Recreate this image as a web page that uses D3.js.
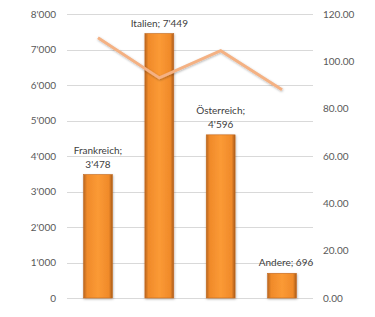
<!DOCTYPE html>
<html>
<head>
<meta charset="utf-8">
<script src="https://cdn.jsdelivr.net/npm/d3@7"></script>
<style>
  body { margin: 0; background: #fff; }
  svg { display: block; font-family: Lato, "Open Sans", sans-serif; }
</style>
</head>
<body>
<div id="chart"></div>
<script>
var width = 375
var height = 317

// data
var categories = ['Frankreich', 'Italien', 'Österreich', 'Andere']
var barValues = [3478, 7449, 4596, 696]
var lineValues = [110, 93, 104.5, 88]
var leftTicks = [0, 1000, 2000, 3000, 4000, 5000, 6000, 7000, 8000]
var rightTicks = [0, 20, 40, 60, 80, 100, 120]

var margin = { top: 14, right: 62, bottom: 19, left: 67 }

var locale = d3.formatLocale({ decimal: '.', thousands: "'", grouping: [3], currency: ['', ''] })
var fmtInt = locale.format(',d')
var fmtRight = d3.format('.2f')

var xScale = d3.scaleBand()
    .domain(categories)
    .range([margin.left, width - margin.right])
    .paddingInner(0.53)
    .paddingOuter(0.27)

var yLeft = d3.scaleLinear()
    .domain([0, 8000])
    .range([height - margin.bottom, margin.top])

var yRight = d3.scaleLinear()
    .domain([0, 120])
    .range([height - margin.bottom, margin.top])

var svg = d3.select('#chart').append('svg')
    .attr('width', width)
    .attr('height', height)

var defs = svg.append('defs')
var grad = defs.append('linearGradient').attr('id', 'barGrad')
    .attr('x1', 0).attr('x2', 1).attr('y1', 0).attr('y2', 0)
grad.append('stop').attr('offset', '0%').attr('stop-color', '#b8661f')
grad.append('stop').attr('offset', '12%').attr('stop-color', '#f08a2a')
grad.append('stop').attr('offset', '50%').attr('stop-color', '#fb9a35')
grad.append('stop').attr('offset', '88%').attr('stop-color', '#f08a2a')
grad.append('stop').attr('offset', '100%').attr('stop-color', '#a85a1a')

var shadow = defs.append('filter').attr('id', 'shadow')
    .attr('x', '-20%').attr('y', '-20%').attr('width', '140%').attr('height', '140%')
shadow.append('feDropShadow').attr('dx', 0.5).attr('dy', 1).attr('stdDeviation', 0.8)
    .attr('flood-color', '#000').attr('flood-opacity', 0.3)

// grid lines
svg.append('g').selectAll('line')
    .data(leftTicks)
    .join('line')
    .attr('x1', margin.left)
    .attr('x2', width - margin.right)
    .attr('y1', d => Math.round(yLeft(d)) + 0.5)
    .attr('y2', d => Math.round(yLeft(d)) + 0.5)
    .attr('stroke', '#d9d9d9')
    .attr('stroke-width', 1)

// left axis labels
svg.append('g').selectAll('text')
    .data(leftTicks)
    .join('text')
    .attr('x', 56)
    .attr('y', d => yLeft(d))
    .attr('dy', '0.35em')
    .attr('text-anchor', 'end')
    .attr('font-size', 10)
    .attr('fill', '#595959')
    .text(d => fmtInt(d))

// right axis labels
svg.append('g').selectAll('text')
    .data(rightTicks)
    .join('text')
    .attr('x', 323)
    .attr('y', d => yRight(d))
    .attr('dy', '0.35em')
    .attr('text-anchor', 'start')
    .attr('font-size', 10)
    .attr('fill', '#595959')
    .text(d => fmtRight(d))

// bars
svg.append('g').selectAll('rect')
    .data(categories)
    .join('rect')
    .attr('x', d => xScale(d))
    .attr('width', xScale.bandwidth())
    .attr('y', (d, i) => yLeft(barValues[i]))
    .attr('height', (d, i) => yLeft(0) - yLeft(barValues[i]))
    .attr('fill', 'url(#barGrad)')
    .attr('stroke', '#c46a20')
    .attr('stroke-width', 0.6)
    .attr('filter', 'url(#shadow)')

// line
var line = d3.line()
    .x((d, i) => xScale(categories[i]) + xScale.bandwidth() / 2)
    .y(d => yRight(d))

svg.append('path')
    .datum(lineValues)
    .attr('d', line)
    .attr('fill', 'none')
    .attr('stroke', '#f4b183')
    .attr('stroke-width', 3)
    .attr('filter', 'url(#shadow)')

// data labels
var labelLines = categories.map((c, i) => {
    var txt = c + '; ' + fmtInt(barValues[i])
    return (c === 'Frankreich' || c === 'Österreich') ? [c + ';', fmtInt(barValues[i])] : [txt]
})

var lbl = svg.append('g').selectAll('text')
    .data(categories)
    .join('text')
    .attr('text-anchor', 'middle')
    .attr('font-size', 10)
    .attr('fill', '#404040')
    .attr('x', (d, i) => xScale(d) + xScale.bandwidth() / 2 + (d === 'Andere' ? 4 : 0))
    .attr('y', (d, i) => yLeft(barValues[i]) - 7 - (labelLines[i].length - 1) * 14)

lbl.each(function (d, i) {
    var t = d3.select(this)
    var x = t.attr('x')
    labelLines[i].forEach((s, j) => {
        t.append('tspan').attr('x', x).attr('dy', j === 0 ? 0 : 14).text(s)
    })
})
</script>
</body>
</html>
